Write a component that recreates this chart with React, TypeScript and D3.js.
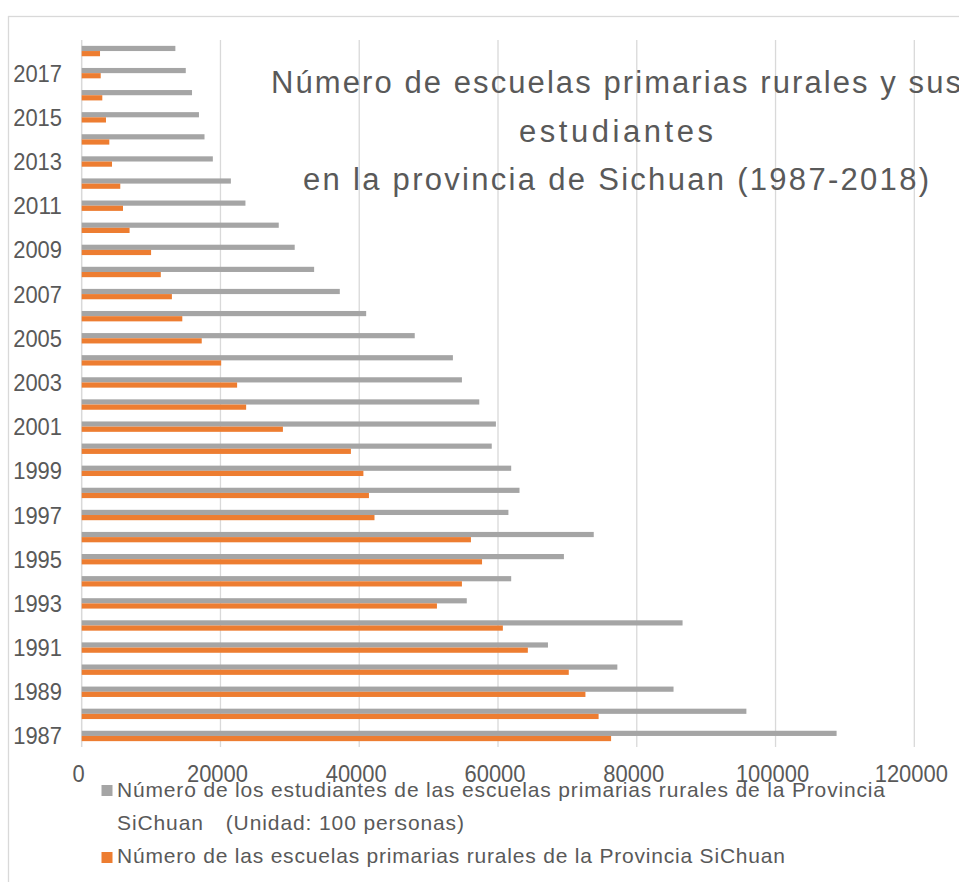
import { useEffect, useRef } from "react";
import { select, scaleLinear, scaleBand, range } from "d3";

// años (de abajo hacia arriba en el gráfico)
const years = range(1987, 2019).map(String);
// estudiantes (unidad: 100 personas)
const students = [
  108800, 95800, 85300, 77200, 67200, 86600, 55500, 61900, 69500, 73800, 61500,
  63100, 61900, 59100, 59700, 57300, 54800, 53500, 48000, 41000, 37200, 33500,
  30700, 28400, 23600, 21500, 18900, 17700, 16900, 15900, 15000, 13500,
];
// escuelas
const schools = [
  76300, 74500, 72600, 70200, 64300, 60700, 51200, 54800, 57700, 56100, 42200,
  41400, 40600, 38800, 29000, 23700, 22400, 20100, 17300, 14500, 13000, 11400,
  10000, 6900, 5950, 5560, 4370, 3980, 3500, 2970, 2740, 2640,
];
const xTicks = [0, 20000, 40000, 60000, 80000, 100000, 120000];
const yLabels = years.filter((y) => +y % 2 === 1);

const titleLines = [
  "Número de escuelas primarias rurales y sus",
  "estudiantes",
  "en la provincia de Sichuan (1987-2018)",
];
const legendStudents = [
  "Número de los estudiantes de las escuelas primarias rurales de la Provincia",
  "SiChuan\u3000(Unidad: 100 personas)",
];
const legendSchools =
  "Número de las escuelas primarias rurales de la Provincia SiChuan";

const W = 959,
  H = 882;
const GRAY = "#a5a5a5",
  ORANGE = "#ed7d31",
  TEXT = "#595959",
  GRID = "#d9d9d9";
const FONT = "'Liberation Sans', Arial, sans-serif";
const DIGIT_W = 12.2; // ancho de cada cifra en las etiquetas de los ejes

const drawChart = (el: SVGSVGElement) => {
  const svg = select(el);
  svg.selectAll("*").remove();

  const plotTop = 40,
    plotBottom = 747,
    plotLeft = 81.7,
    plotRight = 914.3;

  const x = scaleLinear([0, 120000], [plotLeft, plotRight]);
  const y = scaleBand([...years].reverse(), [plotTop, plotBottom])
    .paddingInner(0.53)
    .paddingOuter(0.265);
  const sub = scaleBand(["students", "schools"], [0, y.bandwidth()]);

  // marco del gráfico
  svg
    .append("rect")
    .attr("x", 8.5)
    .attr("y", 16.5)
    .attr("width", 1000)
    .attr("height", 1000)
    .attr("fill", "#fff")
    .attr("stroke", GRID)
    .attr("stroke-width", 1.3);

  // líneas de cuadrícula
  svg
    .append("g")
    .selectAll("line")
    .data(xTicks)
    .enter()
    .append("line")
    .attr("x1", (d) => x(d))
    .attr("x2", (d) => x(d))
    .attr("y1", plotTop)
    .attr("y2", plotBottom)
    .attr("stroke", GRID)
    .attr("stroke-width", (d) => (d === 0 ? 1.5 : 1.3));

  // barras
  const rows = years.map((yr, i) => ({ yr, s: students[i], e: schools[i] }));
  const g = svg.append("g");
  g.selectAll("rect.students")
    .data(rows)
    .enter()
    .append("rect")
    .attr("x", x(0))
    .attr("y", (d) => (y(d.yr) as number) + (sub("students") as number))
    .attr("width", (d) => x(d.s) - x(0))
    .attr("height", sub.bandwidth())
    .attr("fill", GRAY);
  g.selectAll("rect.schools")
    .data(rows)
    .enter()
    .append("rect")
    .attr("x", x(0))
    .attr("y", (d) => (y(d.yr) as number) + (sub("schools") as number))
    .attr("width", (d) => x(d.e) - x(0))
    .attr("height", sub.bandwidth())
    .attr("fill", ORANGE);

  // etiquetas del eje Y
  svg
    .append("g")
    .selectAll("text")
    .data(yLabels)
    .enter()
    .append("text")
    .attr("x", 62)
    .attr("y", (d) => (y(d) as number) + y.bandwidth() / 2 + 8.5)
    .attr("text-anchor", "end")
    .attr("font-family", FONT)
    .attr("font-size", 24)
    .attr("fill", TEXT)
    .attr("textLength", (d) => d.length * DIGIT_W)
    .attr("lengthAdjust", "spacingAndGlyphs")
    .text((d) => d);

  // etiquetas del eje X
  svg
    .append("g")
    .selectAll("text")
    .data(xTicks)
    .enter()
    .append("text")
    .attr("x", (d) => x(d) - 3)
    .attr("y", 782)
    .attr("text-anchor", "middle")
    .attr("font-family", FONT)
    .attr("font-size", 24)
    .attr("fill", TEXT)
    .attr("textLength", (d) => String(d).length * DIGIT_W)
    .attr("lengthAdjust", "spacingAndGlyphs")
    .text((d) => String(d));

  // título
  const titleLen = [690, 194, 626];
  svg
    .append("g")
    .selectAll("text")
    .data(titleLines)
    .enter()
    .append("text")
    .attr("x", 616)
    .attr("y", (d, i) => 93 + i * 48.5)
    .attr("text-anchor", "middle")
    .attr("font-family", FONT)
    .attr("font-size", 31)
    .attr("fill", TEXT)
    .attr("textLength", (d, i) => titleLen[i])
    .attr("lengthAdjust", "spacing")
    .text((d) => d);

  // leyenda
  const leg = svg.append("g");
  leg
    .append("rect")
    .attr("x", 101.5)
    .attr("y", 785)
    .attr("width", 11)
    .attr("height", 11)
    .attr("fill", GRAY);
  leg
    .append("rect")
    .attr("x", 101.5)
    .attr("y", 852)
    .attr("width", 11)
    .attr("height", 11)
    .attr("fill", ORANGE);
  const legendLen = [768, 347];
  leg
    .selectAll("text.s")
    .data(legendStudents)
    .enter()
    .append("text")
    .attr("x", 117)
    .attr("y", (d, i) => 797 + i * 33)
    .attr("font-family", FONT)
    .attr("font-size", 21)
    .attr("fill", TEXT)
    .attr("xml:space", "preserve")
    .attr("textLength", (d, i) => legendLen[i])
    .attr("lengthAdjust", "spacing")
    .text((d) => d);
  leg
    .append("text")
    .attr("x", 117)
    .attr("y", 863)
    .attr("font-family", FONT)
    .attr("font-size", 21)
    .attr("fill", TEXT)
    .attr("textLength", 668)
    .attr("lengthAdjust", "spacing")
    .text(legendSchools);
};

const App = () => {
  const ref = useRef<SVGSVGElement>(null);
  useEffect(() => {
    if (ref.current) drawChart(ref.current);
  }, []);
  return (
    <svg
      ref={ref}
      width={W}
      height={H}
      style={{ position: "absolute", left: 0, top: 0, background: "#fff" }}
    />
  );
};

export default App;
